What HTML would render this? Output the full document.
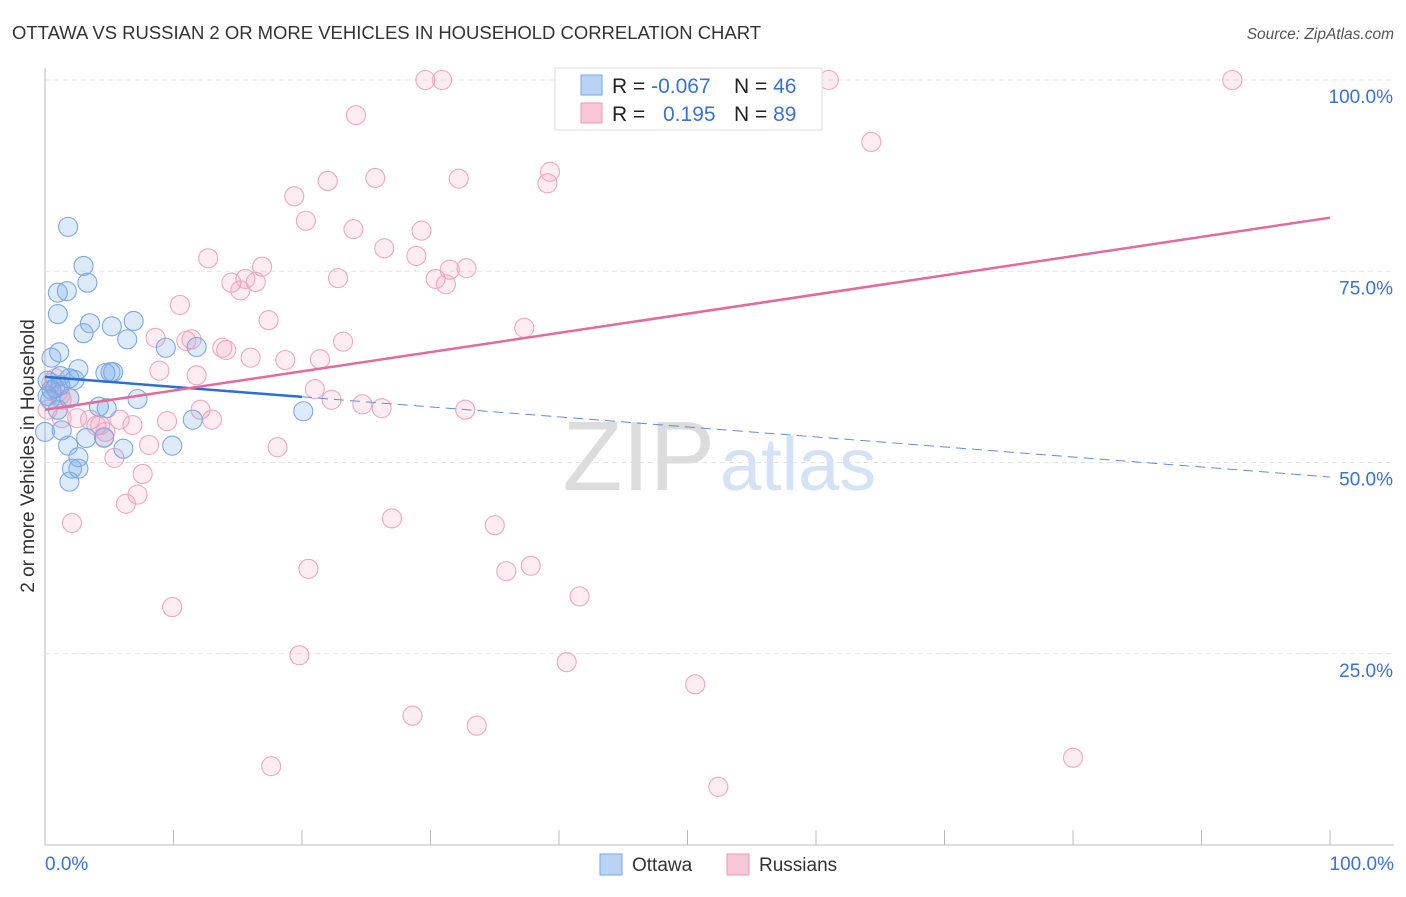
<!DOCTYPE html>
<html><head><meta charset="utf-8"><style>
body{margin:0;background:#fff;font-family:"Liberation Sans",sans-serif}
svg text{font-family:"Liberation Sans",sans-serif}
</style></head><body>
<svg id="c" width="1406" height="892">
<text x="12" y="39" font-size="18" textLength="749" lengthAdjust="spacingAndGlyphs" fill="#333">OTTAWA VS RUSSIAN 2 OR MORE VEHICLES IN HOUSEHOLD CORRELATION CHART</text>
<text x="1394" y="39" font-size="15.5" fill="#555" font-style="italic" text-anchor="end">Source: ZipAtlas.com</text>
<text transform="translate(34,456) rotate(-90)" font-size="19" fill="#333" text-anchor="middle">2 or more Vehicles in Household</text>
<g id="grid"></g>
<text x="715" y="490" font-size="98" fill="#dcdcdc" font-family="Liberation Serif" text-anchor="end">ZIP</text>
<text x="720" y="490" font-size="74" fill="#d3e2f4">atlas</text>
<g id="pts"></g>
<g id="lines"></g>
<g>
<rect x="555" y="68" width="267" height="62" fill="#fff" stroke="#ddd"/>
<rect x="581" y="75" width="21" height="20" fill="#b8d3f4" stroke="#7aa7e0"/>
<rect x="581" y="103" width="21" height="20" fill="#f8c6d6" stroke="#ea9ab5"/>
<text x="612" y="93" font-size="21" fill="#222">R = <tspan fill="#3a72d0">-0.067</tspan></text>
<text x="734" y="93" font-size="21" fill="#222">N = <tspan fill="#3a72d0">46</tspan></text>
<text x="612" y="121" font-size="21" fill="#222">R = </text>
<text x="663" y="121" font-size="21" fill="#3a72d0">0.195</text>
<text x="734" y="121" font-size="21" fill="#222">N = <tspan fill="#3a72d0">89</tspan></text>
</g>
<g>
<rect x="600" y="854" width="22" height="21" fill="#b8d3f4" stroke="#7aa7e0"/>
<text x="632" y="871" font-size="19" fill="#333">Ottawa</text>
<rect x="727" y="854" width="22" height="21" fill="#f8c6d6" stroke="#ea9ab5"/>
<text x="759" y="871" font-size="19" fill="#333">Russians</text>
</g>
</svg>
<script>
const blueX=[1.8,3.0,1.0,1.7,3.3,1.0,3.5,3.0,5.2,6.9,6.4,9.4,11.8,1.1,0.5,2.6,4.7,5.1,5.3,1.2,1.9,2.3,0.5,0.2,1.9,7.2,4.2,4.8,20.1,11.5,1.3,0,3.2,4.6,9.9,1.8,6.1,2.6,2.1,2.6,1.9,0.2,0.8,1.2,0.4,1.0];
const blueY=[80.8,75.7,72.2,72.4,73.5,69.4,68.2,66.9,67.8,68.5,66.1,65.0,65.1,64.4,63.7,62.2,61.7,61.8,61.8,61.3,61.0,60.8,59.5,58.7,58.4,58.3,57.3,57.1,56.7,55.6,54.2,54.0,53.2,53.3,52.2,52.2,51.8,50.7,49.2,49.2,47.5,60.7,59.7,60.1,58.2,56.9];
const pinkX=[29.6,30.9,47.5,61.0,92.4,24.2,64.3,19.4,22.0,25.7,32.2,39.3,39.1,20.3,24.0,29.3,26.4,28.9,12.7,16.9,15.6,14.5,16.4,15.2,22.8,30.4,31.5,32.8,31.2,10.5,17.4,37.3,8.6,11.0,11.4,13.8,14.1,23.2,16.0,18.7,21.4,8.9,11.8,21.0,22.3,24.7,26.2,32.7,0.5,1.0,1.3,0.2,1.3,2.5,3.5,4.0,4.7,5.8,6.8,9.5,12.1,13.0,4.6,5.4,8.1,7.6,7.2,6.3,2.1,18.1,27.0,35.0,35.9,37.8,41.6,20.5,9.9,19.8,40.6,50.6,28.6,33.6,17.6,80.0,52.4,0.8,1.2,1.9,4.3];
const pinkY=[100,100,100,100,100,95.4,91.9,84.8,86.8,87.2,87.1,88.0,86.5,81.6,80.5,80.3,78.0,77.0,76.7,75.6,74.0,73.5,73.6,72.5,74.1,74.0,75.2,75.4,73.3,70.6,68.6,67.6,66.3,65.9,66.1,65.0,64.7,65.8,63.7,63.4,63.5,62.0,61.4,59.6,58.2,57.6,57.1,56.9,60.4,59.2,58.2,56.9,55.8,55.8,55.6,54.8,54.0,55.6,54.9,55.4,56.9,55.6,53.2,50.6,52.3,48.5,45.8,44.6,42.1,52.0,42.7,41.8,35.8,36.5,32.5,36.1,31.1,24.8,23.9,21.0,16.9,15.6,10.3,11.4,7.6,61.0,58.8,58.4,54.9];
const blueTrend=[61.2,48.1];
const pinkTrend=[56.9,82.0];
const yTicks=[25,50,75,100];
const yTickLabels=["25.0%","50.0%","75.0%","100.0%"];
const xTicks=[0,10,20,30,40,50,60,70,80,90,100];
const NS="http://www.w3.org/2000/svg";
const sx=v=>45+v*12.85, sy=v=>845-v*7.65;
function mk(t,a,p){const e=document.createElementNS(NS,t);for(const k in a)e.setAttribute(k,a[k]);p.appendChild(e);return e;}
const g=document.getElementById('grid');
let ax=mk('line',{x1:45,y1:68,x2:45,y2:845,stroke:'#bbb'},g);


let bx=mk('line',{x1:45,y1:845,x2:1394,y2:845,stroke:'#bbb'},g);


yTicks.forEach((v,i)=>{
 const l=mk('line',{x1:45,x2:1394,y1:sy(v),y2:sy(v),stroke:'#e3e3e3','stroke-dasharray':'5,4'},g);
 
 
 const t=mk('text',{x:1393,y:sy(v)+23,'font-size':19,fill:'#3a72d0','text-anchor':'end'},g);
 t.textContent=yTickLabels[i];
 
 
});
xTicks.forEach(v=>{
 const l=mk('line',{x1:sx(v),x2:sx(v),y1:830,y2:845,stroke:'#bbb'},g);
 
 
});
[[0,"0.0%",'start',45],[100,"100.0%",'end',1394]].forEach(a=>{
 const t=mk('text',{x:a[3],y:870,'font-size':19,fill:'#3a72d0','text-anchor':a[2]},g);
 t.textContent=a[1];
 
 
});
const p=document.getElementById('pts');
pinkX.forEach((x,i)=>{
 const c=mk('circle',{cx:sx(x),cy:sy(pinkY[i]),r:9.5,fill:'rgba(244,160,188,0.2)',stroke:'#f0a6bf','stroke-width':1.1},p);
 
 
});
blueX.forEach((x,i)=>{
 const c=mk('circle',{cx:sx(x),cy:sy(blueY[i]),r:9.5,fill:'rgba(120,170,235,0.25)',stroke:'#7ca8e4','stroke-width':1.1},p);
 
 
});
const L=document.getElementById('lines');
const bAt=x=>blueTrend[0]+(blueTrend[1]-blueTrend[0])*x/100;
let l1=mk('line',{x1:sx(0),y1:sy(bAt(0)),x2:sx(20),y2:sy(bAt(20)),stroke:'#2a6fd6','stroke-width':2.5},L);


let l2=mk('line',{x1:sx(20),y1:sy(bAt(20)),x2:sx(100),y2:sy(bAt(100)),stroke:'#5a8fd8','stroke-width':1,'stroke-dasharray':'10,6'},L);


let l3=mk('line',{x1:sx(0),y1:sy(pinkTrend[0]),x2:sx(100),y2:sy(pinkTrend[1]),stroke:'#e66a97','stroke-width':2.5},L);


</script>
</body></html>
